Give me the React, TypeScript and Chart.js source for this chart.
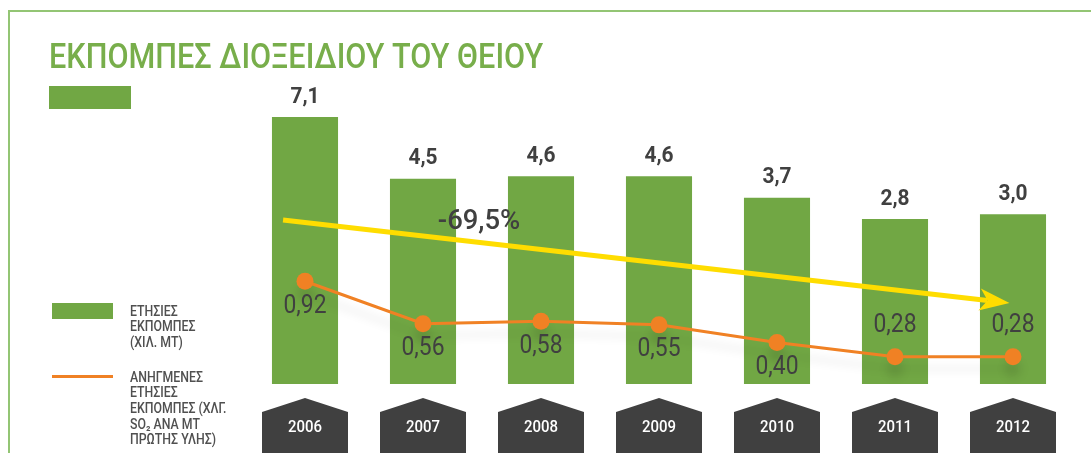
import React, { useEffect, useRef } from 'react';
import { Chart, registerables } from 'chart.js';

Chart.register(...registerables);

// ---- data ----
const years = ['2006', '2007', '2008', '2009', '2010', '2011', '2012'];
const annualEmissions = [7.1, 4.5, 4.6, 4.6, 3.7, 2.8, 3.0];
const specificEmissions = [0.92, 0.56, 0.58, 0.55, 0.4, 0.28, 0.28];
const specificLabelSide = ['below', 'below', 'below', 'below', 'below', 'above', 'above'];
const trendText = '-69,5%';
// trend arrow in data units (x = category index, y = left axis)
const trendFrom = { x: -0.186, y: 2.76 };
const trendTo = { x: 5.97, y: -0.74 };
const trendLabelAt = { x: 1.475, y: 2.675 };

const titleText = 'ΕΚΠΟΜΠΕΣ ΔΙΟΞΕΙΔΙΟΥ ΤΟΥ ΘΕΙΟΥ';
const barLegendLines = ['ΕΤΗΣΙΕΣ', 'ΕΚΠΟΜΠΕΣ', '(ΧΙΛ. ΜΤ)'];
const lineLegendLines = ['ΑΝΗΓΜΕΝΕΣ', 'ΕΤΗΣΙΕΣ', 'ΕΚΠΟΜΠΕΣ (ΧΛΓ.', 'SO₂ ΑΝΑ ΜΤ', 'ΠΡΩΤΗΣ ΥΛΗΣ)'];

// ---- style ----
const W = 1091;
const H = 453;
const GREEN = '#71a744';
const TITLE_GREEN = '#78ae4b';
const FRAME = '#93c574';
const ORANGE = '#f08124';
const YELLOW = '#ffdd00';
const DARK = '#404040';
const Y_MIN = -4.16;
const Y_MAX = 7.82;
const Y1_MIN = 0.048;
const Y1_MAX = 2.459;

function drawText(ctx: CanvasRenderingContext2D, text: string, x: number, y: number, font: string, color: string, sx: number) {
  ctx.save();
  ctx.translate(x, y);
  ctx.scale(sx, 1);
  ctx.font = font;
  ctx.fillStyle = color;
  ctx.textAlign = 'center';
  ctx.textBaseline = 'middle';
  ctx.fillText(text, 0, 0);
  ctx.restore();
}

const fmt = (v: number, d: number) => v.toFixed(d).replace('.', ',');

const decor = {
  id: 'decor',
  beforeDatasetDraw(chart: any, args: any) {
    if (args.meta.type === 'line') {
      const ctx = chart.ctx;
      ctx.save();
      ctx.shadowColor = 'rgba(0,0,0,0.10)';
      ctx.shadowBlur = 10;
      ctx.shadowOffsetY = 12;
    }
  },
  afterDatasetDraw(chart: any, args: any) {
    if (args.meta.type === 'line') chart.ctx.restore();
  },
  afterDatasetsDraw(chart: any) {
    const ctx: CanvasRenderingContext2D = chart.ctx;
    const xs = chart.scales.x;
    const ys = chart.scales.y;
    const y1 = chart.scales.y1;

    // trend arrow
    const x0 = xs.getPixelForValue(trendFrom.x);
    const yA = ys.getPixelForValue(trendFrom.y);
    const x1 = xs.getPixelForValue(trendTo.x);
    const yB = ys.getPixelForValue(trendTo.y);
    const ang = Math.atan2(yB - yA, x1 - x0);
    const c = Math.cos(ang);
    const s = Math.sin(ang);
    const headLen = 30;
    const headHalf = 11;
    const notch = 22;
    ctx.save();
    ctx.strokeStyle = YELLOW;
    ctx.fillStyle = YELLOW;
    ctx.lineWidth = 5;
    ctx.beginPath();
    ctx.moveTo(x0, yA);
    ctx.lineTo(x1 - c * notch, yB - s * notch);
    ctx.stroke();
    const bx = x1 - c * headLen;
    const by = yB - s * headLen;
    ctx.beginPath();
    ctx.moveTo(x1, yB);
    ctx.lineTo(bx - s * headHalf, by + c * headHalf);
    ctx.lineTo(x1 - c * notch, yB - s * notch);
    ctx.lineTo(bx + s * headHalf, by - c * headHalf);
    ctx.closePath();
    ctx.fill();
    ctx.restore();

    drawText(ctx, trendText, xs.getPixelForValue(trendLabelAt.x), ys.getPixelForValue(trendLabelAt.y), '500 28px Roboto', DARK, 0.98);

    // bar value labels
    annualEmissions.forEach((v, i) => {
      const x = xs.getPixelForValue(i);
      const y = ys.getPixelForValue(v);
      drawText(ctx, fmt(v, 1), x, y - 20, 'bold 22px Roboto', DARK, 0.95);
    });

    // line value labels
    specificEmissions.forEach((v, i) => {
      const x = xs.getPixelForValue(i);
      const y = y1.getPixelForValue(v);
      const dy = specificLabelSide[i] === 'above' ? -31 : 25;
      drawText(ctx, fmt(v, 2), x, y + dy, '26px Roboto', DARK, 0.88);
    });

    // pentagon year tags
    years.forEach((yr, i) => {
      const x = xs.getPixelForValue(i);
      const hw = 43;
      ctx.save();
      ctx.fillStyle = DARK;
      ctx.beginPath();
      ctx.moveTo(x, 398);
      ctx.lineTo(x + hw, 412);
      ctx.lineTo(x + hw, H);
      ctx.lineTo(x - hw, H);
      ctx.lineTo(x - hw, 412);
      ctx.closePath();
      ctx.fill();
      ctx.restore();
      drawText(ctx, yr, x, 428, '500 17px Roboto', '#ffffff', 0.88);
    });
  },
};

export default function App() {
  const ref = useRef<HTMLCanvasElement>(null);

  useEffect(() => {
    const chart = new Chart(ref.current as HTMLCanvasElement, {
      type: 'bar',
      data: {
        labels: years,
        datasets: [
          {
            type: 'line',
            label: lineLegendLines.join(' '),
            data: specificEmissions,
            yAxisID: 'y1',
            borderColor: ORANGE,
            backgroundColor: ORANGE,
            borderWidth: 3,
            pointRadius: 8.5,
            pointBackgroundColor: ORANGE,
            pointBorderWidth: 0,
            tension: 0,
            order: 0,
          } as any,
          {
            type: 'bar',
            label: barLegendLines.join(' '),
            data: annualEmissions,
            yAxisID: 'y',
            backgroundColor: GREEN,
            base: Y_MIN,
            barPercentage: 0.56,
            categoryPercentage: 1,
            order: 1,
          } as any,
        ],
      },
      options: {
        responsive: false,
        animation: false,
        devicePixelRatio: 1,
        layout: { padding: { left: 246, right: 19, top: 100, bottom: 69 } },
        plugins: {
          legend: { display: false },
          tooltip: { enabled: false },
        },
        scales: {
          x: { display: false, offset: true },
          y: { display: false, min: Y_MIN, max: Y_MAX },
          y1: { display: false, min: Y1_MIN, max: Y1_MAX, position: 'right' },
        },
      } as any,
      plugins: [decor as any],
    });
    return () => chart.destroy();
  }, []);

  const legendText: React.CSSProperties = {
    position: 'absolute',
    left: 130,
    fontFamily: 'Roboto, sans-serif',
    fontWeight: 500,
    fontSize: 14,
    lineHeight: '15.7px',
    color: '#505050',
    transform: 'scaleX(0.88)',
    transformOrigin: 'left top',
    whiteSpace: 'nowrap',
  };

  return (
    <div style={{ position: 'absolute', left: 0, top: 0, width: W, height: H, overflow: 'hidden', background: '#ffffff' }}>
      <canvas ref={ref} width={W} height={H} style={{ position: 'absolute', left: 0, top: 0, width: W, height: H }} />
      <div style={{ position: 'absolute', left: 9, top: 10, width: W - 9, height: 1.5, background: FRAME }} />
      <div style={{ position: 'absolute', left: 8, top: 10, width: 1.5, height: H - 10, background: FRAME }} />
      <div
        style={{
          position: 'absolute',
          left: 49,
          top: 38.6,
          fontFamily: 'Roboto, sans-serif',
          fontWeight: 500,
          fontSize: 35,
          lineHeight: '35px',
          color: TITLE_GREEN,
          transform: 'scaleX(0.875)',
          transformOrigin: 'left top',
          whiteSpace: 'nowrap',
        }}
      >
        {titleText}
      </div>
      <div style={{ position: 'absolute', left: 49, top: 86, width: 82, height: 23, background: GREEN }} />
      <div style={{ position: 'absolute', left: 52, top: 303, width: 61, height: 16, background: GREEN }} />
      <div style={{ ...legendText, top: 303.5 }}>
        {barLegendLines.map((t) => (
          <div key={t}>{t}</div>
        ))}
      </div>
      <div style={{ position: 'absolute', left: 52, top: 375, width: 61, height: 3, background: ORANGE }} />
      <div style={{ ...legendText, top: 369.5 }}>
        {lineLegendLines.map((t) => (
          <div key={t}>{t}</div>
        ))}
      </div>
    </div>
  );
}
